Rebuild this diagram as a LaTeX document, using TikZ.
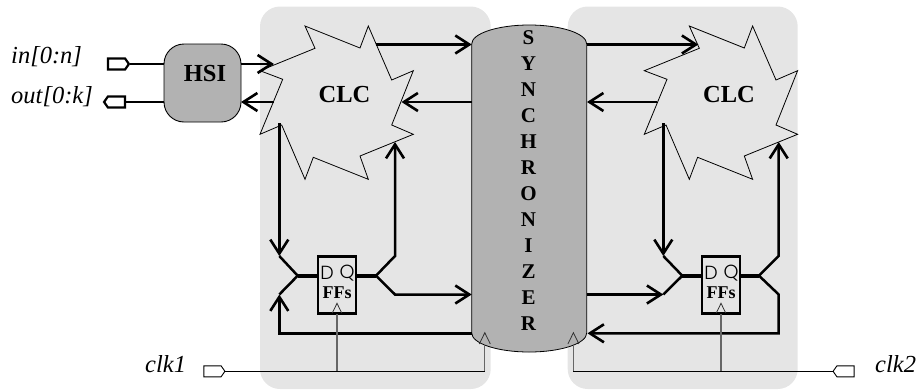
\documentclass[tikz,border=0pt]{standalone}
\usepackage{fontspec}
\setmainfont{Liberation Serif}
\newfontfamily\pinfont[UprightFont=* Light]{Poppins}
\definecolor{panelgray}{HTML}{E5E5E5}
\definecolor{syncgray}{HTML}{B2B2B2}
\definecolor{clockgray}{HTML}{666666}
\usetikzlibrary{
  positioning,
  arrows.meta,
  shapes.symbols
}

\begin{document}
\begin{tikzpicture}[
  x=1pt, y=-1pt,
  >={Straight Barb[length=14pt,width=18pt,line width=2.6pt]},
  panel/.style={fill=panelgray, rounded corners=20pt},
  clcstar/.style={draw=black, fill=panelgray, line width=0.8pt, line join=miter},
  bus/.style={line width=2.5pt, line join=miter},
  stub/.style={line width=4.4pt},
  clkwire/.style={line width=0.9pt},
  clktap/.style={line width=1.2pt, clockgray},
  chevron/.style={line width=0.8pt, draw=black!80},
  hsibox/.style={
    rectangle, rounded corners=20pt, draw=black, fill=syncgray, line width=0.9pt,
    minimum width=77pt, minimum height=78pt, inner sep=0pt
  },
  ffbox/.style={
    rectangle, draw=black, fill=panelgray, line width=2.4pt,
    minimum width=37.5pt, minimum height=57pt, inner sep=0pt
  },
  buslabel/.style={font=\fontsize{24.5}{28}\selectfont\bfseries, inner sep=0pt},
  pinlabel/.style={font=\fontsize{19}{20}\selectfont\pinfont, inner sep=0pt},
  fflabel/.style={font=\fontsize{18}{20}\selectfont\bfseries, inner sep=0pt},
  siglabel/.style={font=\fontsize{24.5}{28}\selectfont\itshape, inner sep=0pt},
  port/.style={
    signal, draw=black, fill=white, inner sep=0pt, line width=#1,
    minimum width=21pt, minimum height=11pt, signal pointer angle=110
  }
]
\useasboundingbox (0,0) rectangle (920,389);

% grey blocks
\fill[panel] (260,6.5) rectangle (490.7,389);
\fill[panel] (567.7,6.5) rectangle (797.7,389);

% combinational logic
\foreach \dx in {0,384.3} {
  \draw[clcstar, xshift=\dx pt] (305,26) -- (360,48) -- (368.3,26) -- (391.7,80)
    -- (413.3,70.7) -- (391.7,125) -- (413.3,134.3) -- (360,156) -- (368.3,179.3)
    -- (313.3,157.3) -- (305,179.3) -- (281.7,125) -- (260,134.3) -- (282.7,79.3)
    -- (260,70.7) -- (315,48.3) -- cycle;
}
\node[buslabel] (clcl) at (344.5,95) {CLC};
\node[buslabel] (clcr) at (729,95) {CLC};

% synchronizer
\draw[fill=syncgray, line width=0.8pt] (471.7,44) arc[start angle=180, end angle=360, x radius=57.5, y radius=19]
  -- (586.7,333) arc[start angle=0, end angle=-180, x radius=57.5, y radius=-19] -- cycle;
\node[align=center, font=\fontsize{21}{26}\selectfont\bfseries, inner sep=0pt, anchor=north]
  (sync) at (528.5,30.5) {S\\Y\\N\\C\\H\\R\\O\\N\\I\\Z\\E\\R};

% interface
\node[hsibox] (hsi) at (202.5,83) {};
\node[buslabel] (hsitext) at (205,74) {HSI};

\node[port=2.2pt, signal to=east] (inport) at (116.5,64) {};
\node[port=2.2pt, signal to=west] (outport) at (116.5,102) {};
\node[port=0.9pt, signal to=east] (clkoneport) at (212.5,371.3) {};
\node[port=0.9pt, signal to=west] (clktwoport) at (845.5,371.3) {};

\node[siglabel, anchor=west] (inlabel) at (11,57) {in[0:n]};
\node[siglabel, anchor=west] (outlabel) at (11,97) {out[0:k]};
\node[siglabel, anchor=west] (clkonelabel) at (145,364) {clk1};
\node[siglabel, anchor=west] (clktwolabel) at (875,364) {clk2};

% flip flops
\node[ffbox] (ffl) at (337,284.8) {};
\node[ffbox] (ffr) at (721,284.8) {};
\node[pinlabel] (ffld) at (327,273) {D};
\node[pinlabel] (fflq) at (347,273) {Q};
\node[pinlabel] (ffrd) at (711,273) {D};
\node[pinlabel] (ffrq) at (731,273) {Q};
\node[fflabel] (ffltext) at (337,293) {FFs};
\node[fflabel] (ffrtext) at (721,293) {FFs};

% bus end points
\coordinate (lfork) at (297.7,275.7);
\coordinate (lforkup) at (279.3,256);
\coordinate (lforkdn) at (279.3,294.5);
\coordinate (qfork) at (376,275.7);
\coordinate (qforkup) at (395,256);
\coordinate (qforkdn) at (395,294.5);
\coordinate (rfork) at (682.3,275.7);
\coordinate (rforkup) at (663.3,256);
\coordinate (rforkdn) at (663.3,294.5);
\coordinate (sfork) at (759,275.7);
\coordinate (sforkup) at (778.7,256);
\coordinate (sforkdn) at (778.7,294.5);

% left side buses
\draw[bus] (inport.east) -- (hsi.west |- inport);
\draw[bus] (outport.east) -- (hsi.west |- outport);
\draw[bus, ->] (241,64) -- (274,64);
\draw[bus, ->] (273.5,102) -- (241,102);
\draw[bus, ->] (376,44.5) -- (471.7,44.5);
\draw[bus, ->] (471.7,102) -- (401.5,102);
\draw[bus, ->] (279.3,123) -- (lforkup);
\draw[bus, ->] (471.7,333.3) -- (279.3,333.3) -- (lforkdn);
\draw[bus] (lforkup) -- (lfork) -- (lforkdn);
\draw[stub] (lfork) -- (ffl.west |- lfork);
\draw[stub] (ffl.east |- qfork) -- (qfork);
\draw[bus, ->] (qfork) -- (qforkup) -- (395,142);
\draw[bus, ->] (qfork) -- (qforkdn) -- (471.7,294.5);

% right side buses
\draw[bus, ->] (586.7,44.5) -- (698.3,44.5);
\draw[bus, ->] (657,102) -- (587,102);
\draw[bus, ->] (663.3,123) -- (rforkup);
\draw[bus, ->] (586.7,294.5) -- (rforkdn);
\draw[bus] (rforkup) -- (rfork) -- (rforkdn);
\draw[stub] (rfork) -- (ffr.west |- rfork);
\draw[stub] (ffr.east |- sfork) -- (sfork);
\draw[bus, ->] (sfork) -- (sforkup) -- (778.7,142);
\draw[bus, ->] (sfork) -- (sforkdn) -- (778.7,333.3) -- (587.5,333.3);

% clocks
\draw[clktap] (337,371.3) -- (337,314);
\draw[clktap] (721,371.3) -- (721,314);
\draw[clktap] (484.8,371.3) -- (484.8,344);
\draw[clktap] (573.4,371.3) -- (573.4,344);
\draw[clkwire] (clkoneport.east) -- (484.8,371.3);
\draw[clkwire] (clktwoport.west) -- (573.4,371.3);
\draw[chevron] (332.3,313) -- (337,303.3) -- (341.7,313);
\draw[chevron] (716.3,313) -- (721,303.3) -- (725.7,313);
\draw[chevron] (479.3,344) -- (484.8,332.7) -- (490.3,344);
\draw[chevron] (567.9,344) -- (573.4,332.7) -- (578.9,344);

\end{tikzpicture}
\end{document}
